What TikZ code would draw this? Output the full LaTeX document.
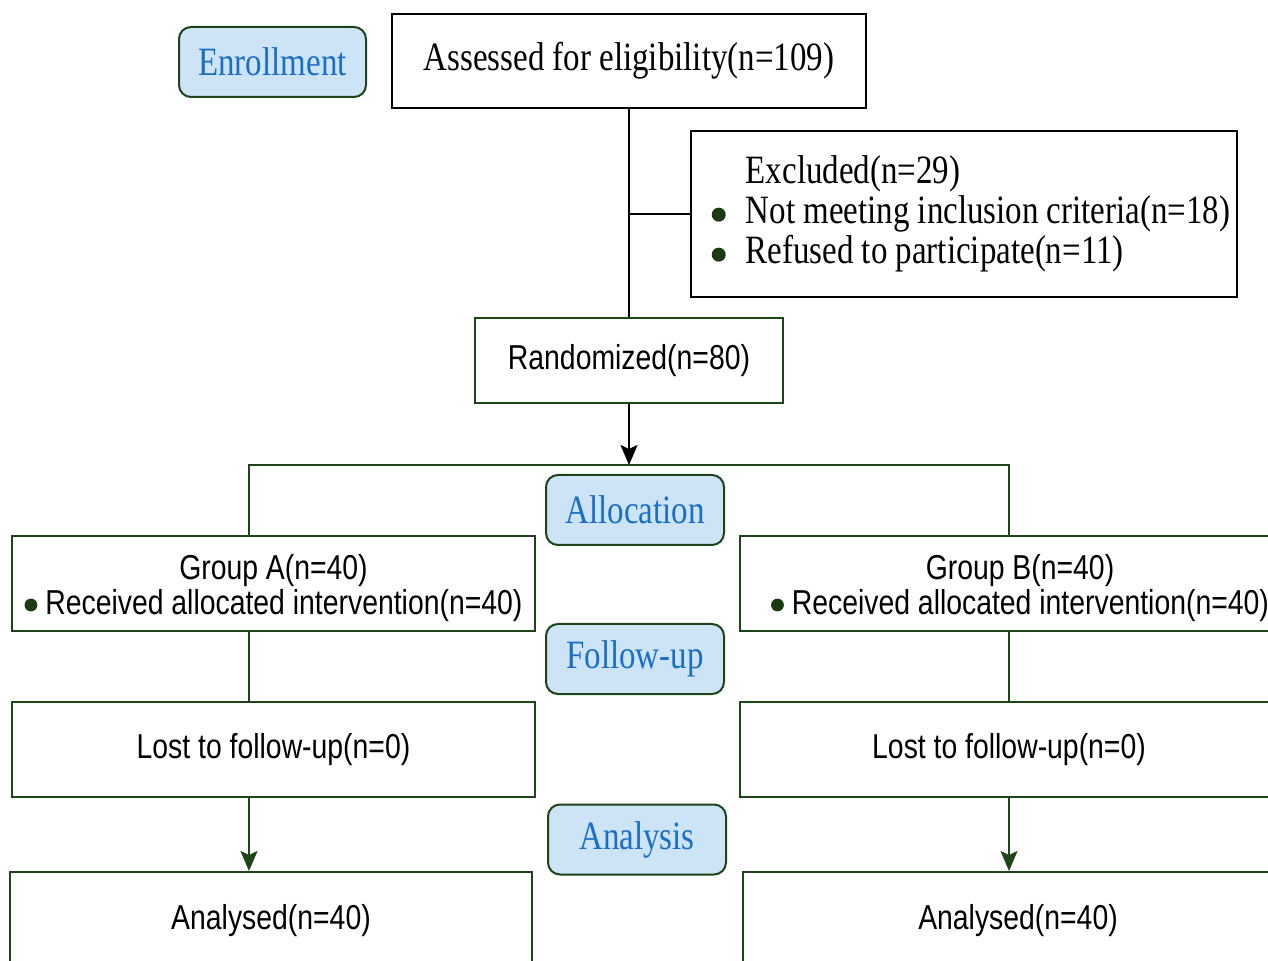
\documentclass[tikz,border=0pt]{standalone}
\usepackage{fontspec}
\setmainfont{Liberation Serif}[FakeStretch=0.82]
\setsansfont{Liberation Sans}[FakeStretch=0.82]
\usetikzlibrary{arrows.meta}
\definecolor{gline}{HTML}{1E4419}
\definecolor{gfill}{HTML}{CDE4F7}
\definecolor{gtext}{HTML}{1A6EC8}
\definecolor{gdot}{HTML}{1C3A12}
\tikzset{
	stage/.style={draw=gline, line width=1pt, fill=gfill, rounded corners=6pt, text=gtext,
		minimum width=89pt, minimum height=35pt, inner sep=0pt,
		font=\rmfamily\fontsize{20.1}{20}\selectfont},
	sbox/.style={draw, line width=1pt, inner sep=0pt, font=\rmfamily\fontsize{20.1}{20}\selectfont},
	gbox/.style={draw=gline, line width=1pt, inner sep=0pt, align=center,
		font=\sffamily\fontsize{17.3}{17.5}\selectfont},
	arr/.style={line width=1pt, -{Stealth[length=10pt, width=8.5pt, inset=2pt]}},
}
\newcommand{\bdot}[1]{\tikz[x=1pt, y=1pt, baseline=0pt]\fill[gdot] (0,4.5) circle (#1);}
\begin{document}
\begin{tikzpicture}[x=0.5pt, y=-0.5pt]
%		\draw[help lines] (0,0) grid (1268,961);
		\clip (0,0) rectangle (1268,961);
		% side labels
		\node[stage, minimum width=93.5pt] (enr) at (272.5,62) {Enrollment};
		\node[stage] (alc) at (635,510) {Allocation};
		\node[stage] (fol) at (635,659) {Follow-up};
		\node[stage] (ana) at (637,839.5) {Analysis};
		% top part
		\node[sbox, minimum width=237pt, minimum height=47pt] (ass) at (629,61) {Assessed for eligibility(n=109)};
		\node[sbox, minimum width=273pt, minimum height=83pt, align=left] (exc) at (964,214)
			{\hspace*{24pt}Excluded(n=29)\\ \hspace*{7pt}\bdot{3.5pt}\hspace{10pt}Not meeting inclusion criteria(n=18)\\
			 \hspace*{7pt}\bdot{3.5pt}\hspace{10pt}Refused to participate(n=11)};
		\node[gbox, minimum width=154pt, minimum height=42.5pt] (rnd) at (629,360.5) {Randomized(n=80)};
		% two arms
		\node[gbox, minimum width=261.5pt, minimum height=47.5pt] (grpA) at (273.5,583.5)
			{\rule{0pt}{16.6pt}Group A(n=40)\\ \bdot{3.2pt}\hspace{4pt}Received allocated intervention(n=40)};
		\node[gbox, minimum width=280pt, minimum height=47.5pt] (grpB) at (1020,583.5)
			{\rule{0pt}{16.6pt}Group B(n=40)\\ \bdot{3.2pt}\hspace{4pt}Received allocated intervention(n=40)};
		\node[gbox, minimum width=261.5pt, minimum height=47.5pt] (lostA) at (273.5,749.5) {Lost to follow-up(n=0)};
		\node[gbox, minimum width=269pt, minimum height=47.5pt] (lostB) at (1009,749.5) {Lost to follow-up(n=0)};
		\node[gbox, minimum width=261pt, minimum height=49pt] (anaA) at (271,921) {Analysed(n=40)};
		\node[gbox, minimum width=275pt, minimum height=49pt] (anaB) at (1018,921) {Analysed(n=40)};
		\coordinate (spl) at (629,465);
		\coordinate (ta) at (249,465);
		\coordinate (tb) at (1009,465);
		\draw[line width=1pt] (ass) -- (rnd);
		\draw[line width=1pt] (ass |- exc.west) -- (exc.west);
		\draw[arr] (rnd) -- (spl);
		\draw[gline, line width=1pt] (ta |- grpA.north) -- (ta) -- (tb) -- (tb |- grpB.north);
		\draw[gline, line width=1pt] (ta |- grpA.south) -- (ta |- lostA.north);
		\draw[gline, line width=1pt] (tb |- grpB.south) -- (tb |- lostB.north);
		\draw[gline, arr] (ta |- lostA.south) -- (ta |- anaA.north);
		\draw[gline, arr] (tb |- lostB.south) -- (tb |- anaB.north);
	\end{tikzpicture}
\end{document}
